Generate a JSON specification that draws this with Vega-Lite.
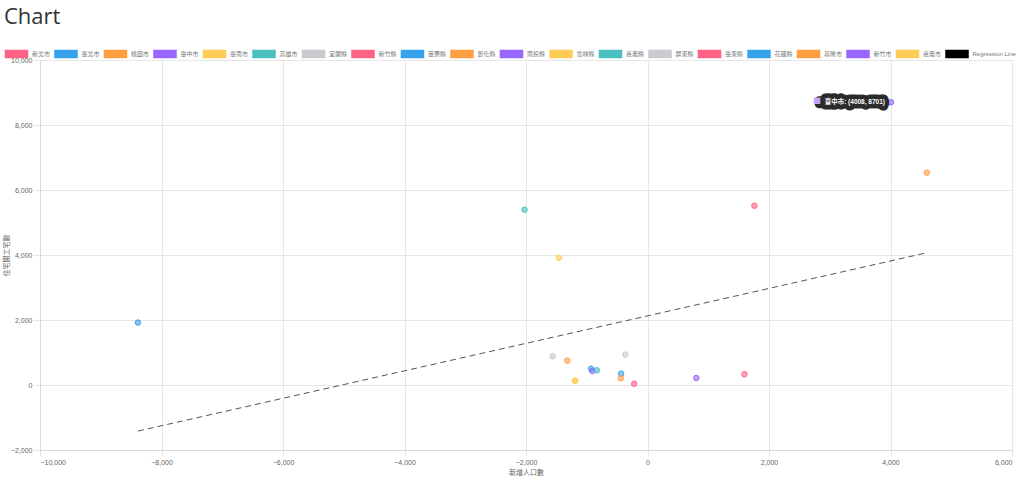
{
  "$schema": "https://vega.github.io/schema/vega-lite/v6.json",
  "width": 972,
  "height": 390,
  "autosize": {"type": "none"},
  "padding": {"left": 40, "top": 60, "right": 12, "bottom": 33},
  "background": "white",
  "title": {
    "text": "Chart",
    "anchor": "start",
    "frame": "group",
    "fontSize": 22,
    "fontWeight": "normal",
    "font": "Open Sans",
    "color": "#333333",
    "dx": -36,
    "offset": 16
  },
  "config": {
    "view": {"stroke": null},
    "axis": {
      "gridColor": "#e6e6e6",
      "tickColor": "#e6e6e6",
      "domainColor": "#d9d9d9",
      "labelColor": "#666666",
      "titleColor": "#666666",
      "labelFontSize": 7,
      "titleFontSize": 7,
      "labelFont": "Liberation Sans, Noto Sans CJK TC",
      "titleFont": "Noto Sans CJK TC",
      "titleFontWeight": "normal",
      "tickSize": 6,
      "labelPadding": 2
    }
  },
  "datasets": {
    "points": [
      {"name": "新北市", "x": 1760, "y": 5516},
      {"name": "臺北市", "x": -8388, "y": 1920},
      {"name": "桃園市", "x": 4599, "y": 6533},
      {"name": "臺中市", "x": 4008, "y": 8701},
      {"name": "臺南市", "x": -1457, "y": 3914},
      {"name": "高雄市", "x": -2025, "y": 5393},
      {"name": "宜蘭縣", "x": -363, "y": 934},
      {"name": "新竹縣", "x": 1596, "y": 330},
      {"name": "苗栗縣", "x": -929, "y": 502},
      {"name": "彰化縣", "x": -1320, "y": 749},
      {"name": "南投縣", "x": -908, "y": 431},
      {"name": "雲林縣", "x": -1193, "y": 133},
      {"name": "嘉義縣", "x": -835, "y": 453},
      {"name": "屏東縣", "x": -1561, "y": 884},
      {"name": "臺東縣", "x": -219, "y": 40},
      {"name": "花蓮縣", "x": -434, "y": 348},
      {"name": "基隆市", "x": -439, "y": 206},
      {"name": "新竹市", "x": 804, "y": 216},
      {"name": "嘉義市", "x": -1190, "y": 130}
    ],
    "reg": [
      {"x": -8388, "y": -1418},
      {"x": 4599, "y": 4070}
    ],
    "tip": [
      {"name": "臺中市", "x": 4008, "y": 8701, "label": "臺中市: (4008, 8701)", "box": "■ 臺中市: (4008, 8701)", "sq": "■"}
    ]
  },
  "layer": [
    {
      "data": {"name": "reg"},
      "mark": {"type": "line", "stroke": "#555555", "strokeDash": [6, 4], "strokeWidth": 1},
      "encoding": {
        "x": {
          "field": "x", "type": "quantitative",
          "scale": {"domain": [-10000, 6000], "nice": false, "zero": false},
          "axis": {"values": [-10000, -8000, -6000, -4000, -2000, 0, 2000, 4000, 6000], "format": ",d", "title": "新增人口數", "titlePadding": 3}
        },
        "y": {
          "field": "y", "type": "quantitative",
          "scale": {"domain": [-2000, 10000], "nice": false, "zero": false},
          "axis": {"values": [-2000, 0, 2000, 4000, 6000, 8000, 10000], "format": ",d", "title": "住宅開工宅數", "titlePadding": 1}
        }
      }
    },
    {
      "data": {"name": "points"},
      "mark": {"type": "point", "filled": true, "size": 30, "fillOpacity": 0.6, "strokeWidth": 1, "opacity": 1},
      "encoding": {
        "x": {"field": "x", "type": "quantitative"},
        "y": {"field": "y", "type": "quantitative"},
        "color": {
          "field": "name", "type": "nominal",
          "scale": {
            "domain": ["新北市", "臺北市", "桃園市", "臺中市", "臺南市", "高雄市", "宜蘭縣", "新竹縣", "苗栗縣", "彰化縣", "南投縣", "雲林縣", "嘉義縣", "屏東縣", "臺東縣", "花蓮縣", "基隆市", "新竹市", "嘉義市", "Regression Line"],
            "range": ["rgb(255,99,132)", "rgb(54,162,235)", "rgb(255,159,64)", "rgb(153,102,255)", "rgb(255,205,86)", "rgb(75,192,192)", "rgb(201,203,207)", "rgb(255,99,132)", "rgb(54,162,235)", "rgb(255,159,64)", "rgb(153,102,255)", "rgb(255,205,86)", "rgb(75,192,192)", "rgb(201,203,207)", "rgb(255,99,132)", "rgb(54,162,235)", "rgb(255,159,64)", "rgb(153,102,255)", "rgb(255,205,86)", "#000000"]
          },
          "legend": {
            "orient": "none",
            "legendX": -32,
            "legendY": -15,
            "direction": "horizontal",
            "columns": 20,
            "title": null,
            "symbolType": "M-1.5,-0.48H1.5V0.48H-1.5Z",
            "symbolSize": 215,
            "symbolStrokeWidth": 1.5,
            "labelFontSize": 6,
            "labelColor": "#777777",
            "labelFont": "Liberation Sans, Noto Sans CJK TC",
            "labelOffset": 7,
            "columnPadding": 0.5,
            "encode": {
              "symbols": {
                "update": {
                  "fillOpacity": {"signal": "datum.value === 'Regression Line' ? 1 : 0.5"},
                  "stroke": {"scale": "color", "field": "value"}
                }
              }
            }
          }
        },
        "stroke": {
          "field": "name", "type": "nominal",
          "scale": {
            "domain": ["新北市", "臺北市", "桃園市", "臺中市", "臺南市", "高雄市", "宜蘭縣", "新竹縣", "苗栗縣", "彰化縣", "南投縣", "雲林縣", "嘉義縣", "屏東縣", "臺東縣", "花蓮縣", "基隆市", "新竹市", "嘉義市", "Regression Line"],
            "range": ["rgb(255,99,132)", "rgb(54,162,235)", "rgb(255,159,64)", "rgb(153,102,255)", "rgb(255,205,86)", "rgb(75,192,192)", "rgb(201,203,207)", "rgb(255,99,132)", "rgb(54,162,235)", "rgb(255,159,64)", "rgb(153,102,255)", "rgb(255,205,86)", "rgb(75,192,192)", "rgb(201,203,207)", "rgb(255,99,132)", "rgb(54,162,235)", "rgb(255,159,64)", "rgb(153,102,255)", "rgb(255,205,86)", "#000000"]
          },
          "legend": null
        }
      }
    },
    {
      "data": {"name": "tip"},
      "mark": {"type": "text", "align": "right", "baseline": "middle", "dx": -6, "fontSize": 6.5, "fontWeight": "bold", "font": "Liberation Sans, Noto Sans CJK TC", "stroke": "#2b2b2b", "strokeWidth": 9, "strokeJoin": "round", "fill": "#2b2b2b"},
      "encoding": {
        "x": {"field": "x", "type": "quantitative"},
        "y": {"field": "y", "type": "quantitative"},
        "text": {"field": "box"}
      }
    },
    {
      "data": {"name": "tip"},
      "mark": {"type": "text", "align": "right", "baseline": "middle", "dx": -6, "fontSize": 6.5, "fontWeight": "bold", "font": "Liberation Sans, Noto Sans CJK TC", "fill": "#ffffff"},
      "encoding": {
        "x": {"field": "x", "type": "quantitative"},
        "y": {"field": "y", "type": "quantitative"},
        "text": {"field": "label"}
      }
    },
    {
      "data": {"name": "tip"},
      "mark": {"type": "text", "align": "right", "baseline": "middle", "dx": -70, "fontSize": 8, "font": "Noto Sans CJK TC", "fill": "rgb(190,165,255)"},
      "encoding": {
        "x": {"field": "x", "type": "quantitative"},
        "y": {"field": "y", "type": "quantitative"},
        "text": {"field": "sq"}
      }
    }
  ]
}
